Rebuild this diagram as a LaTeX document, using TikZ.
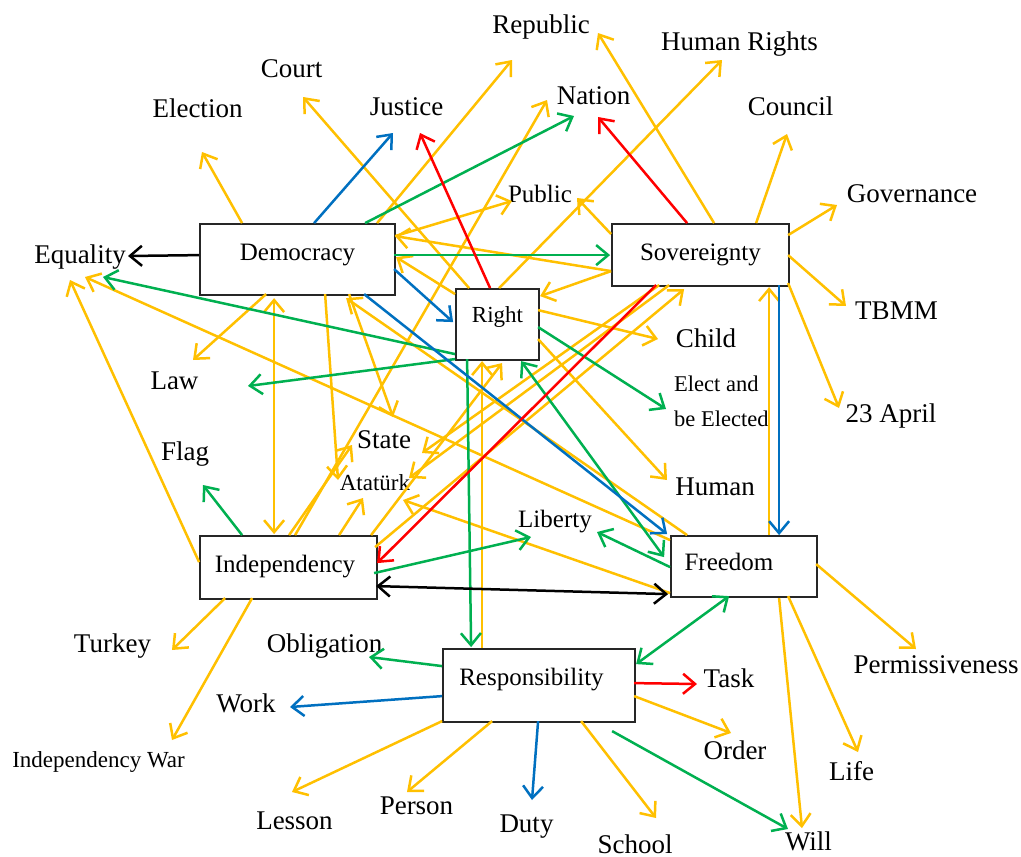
\documentclass[tikz,border=0pt]{standalone}
\usepackage{fontspec}
\setmainfont{Liberation Serif}
\usetikzlibrary{arrows.meta,calc}
\definecolor{cy}{HTML}{FFC000}
\definecolor{cg}{HTML}{00B050}
\definecolor{cb}{HTML}{0070C0}
\definecolor{cr}{HTML}{FF0000}
\tikzset{
  lbl/.style={inner sep=0pt, anchor=base, font=\fontsize{27}{32}\selectfont},
  lblm/.style={lbl, font=\fontsize{25}{30}\selectfont},
  lbls/.style={lbl, font=\fontsize{23}{35}\selectfont},
  box/.style={draw=black!85, line width=1.8pt, fill=white, inner sep=0pt,
    font=\fontsize{25}{30}\selectfont, text height=18pt},
  ar/.style={line width=2.5pt, -{Straight Barb[length=12pt,width=20pt]}},
  dar/.style={line width=2.5pt, {Straight Barb[length=12pt,width=20pt]}-{Straight Barb[length=12pt,width=20pt]}},
  yl/.style={draw=cy},
  gn/.style={draw=cg},
  bl/.style={draw=cb},
  rd/.style={draw=cr},
  bk/.style={draw=black}
}
\begin{document}
\begin{tikzpicture}[x=1pt,y=-1pt]
\fill[white] (0,0) rectangle (1021,857);
\useasboundingbox (0,0) rectangle (1021,857);

% boxes
\node[box, minimum width=195pt, minimum height=71pt, text depth=17pt] (dem) at (297.5,259.5) {Democracy};
\node[box, minimum width=177pt, minimum height=62pt, text depth=8pt] (sov) at (700.5,255) {Sovereignty};
\node[box, minimum width=83pt, minimum height=71pt, text depth=23pt, font=\fontsize{23}{28}\selectfont] (rgt) at (497.5,324.5) {Right};
\node[box, minimum width=177pt, minimum height=63pt, text depth=9pt] (ind) at (288.5,567.5) {Independency\hspace*{7pt}};
\node[box, minimum width=146pt, minimum height=61pt, text depth=11pt] (fre) at (744,566.5) {Freedom\hspace*{30pt}};
\node[box, minimum width=192pt, minimum height=73pt, text depth=19pt] (res) at (539,685.5) {Responsibility\hspace*{15pt}};

% labels
\node[lbl] (equ) at (80,263) {Equality};
\node[lbl] (ele) at (197.5,117) {Election};
\node[lbl] (cou) at (291.5,77) {Court};
\node[lbl] (jus) at (406.5,115) {Justice};
\node[lbl] (rep) at (541,33) {Republic};
\node[lbl] (nat) at (593.5,104) {Nation};
\node[lbl] (hr) at (739.5,50) {Human Rights};
\node[lbl] (cnc) at (790.5,115) {Council};
\node[lbl] (gov) at (912,202) {Governance};
\node[lblm] (pub) at (540,202) {Public};
\node[lbl] (tbmm) at (896.5,319) {TBMM};
\node[lbl] (chi) at (706,347) {Child};
\node[lbls, anchor=north west, align=left, font=\fontsize{22.5}{35}\selectfont] (elect) at (674,376) {Elect and\\be Elected};
\node[lbl] (ap23) at (891,422) {23 April};
\node[lbl] (hum) at (715,495) {Human};
\node[lblm] (lib) at (555,527) {Liberty};
\node[lbl] (law) at (174.5,389) {Law};
\node[lbl] (flag) at (185,460) {Flag};
\node[lbl] (state) at (384,448) {State};
\node[lbls] (ata) at (375,490) {Atatürk};
\node[lbl] (tur) at (112.5,652) {Turkey};
\node[lbl] (obl) at (324.5,652) {Obligation};
\node[lbl] (work) at (246,712) {Work};
\node[lbls] (iwar) at (98.5,767) {Independency War};
\node[lbl] (les) at (294.5,829) {Lesson};
\node[lbl] (per) at (416.5,814) {Person};
\node[lbl] (duty) at (526.5,832) {Duty};
\node[lbl] (sch) at (635,853) {School};
\node[lbl] (task) at (729,687) {Task};
\node[lbl] (ord) at (735,759) {Order};
\node[lbl] (life) at (851.5,780) {Life};
\node[lbl] (will) at (808.5,850) {Will};
\node[lbl] (perm) at (936,673) {Permissiveness};

% yellow connectors
\draw[ar,yl] ($(dem.north west)+(43,0)$) -- ($(ele.base)+(4.5,35)$);
\draw[ar,yl] ($(dem.north west)+(178,0)$) -- ($(rep.base)+(-29,27)$);
\draw[ar,yl] ($(dem.north west)+(196,13)$) -- ($(pub.base)+(-28,-1)$);
\draw[ar,yl] ($(sov.north west)+(0,48)$) -- ($(dem.north west)+(196,13)$);
\draw[ar,yl] ($(sov.north west)+(0,48)$) -- ($(rgt.north west)+(85,8)$);
\draw[ar,yl] ($(rgt.north west)+(0,6)$) -- ($(dem.north west)+(197,34)$);
\draw[ar,yl] ($(rgt.north west)+(14,0)$) -- ($(cou.base)+(11.5,20)$);
\draw[ar,yl] ($(rgt.north west)+(44,0)$) -- ($(hr.base)+(-17.5,10)$);
\draw[ar,yl] ($(rgt.north west)+(83,22)$) -- ($(chi.base)+(-48,-8)$);
\draw[ar,yl] ($(rgt.north west)+(83,51)$) -- ($(hum.base)+(-48,-15)$);
\draw[ar,yl] ($(res.north west)+(40,0)$) -- ($(rgt.north west)+(27,73)$);
\draw[ar,yl] ($(dem.north west)+(67,71)$) -- ($(law.base)+(18.5,-29)$);
\draw[dar,yl] ($(dem.north west)+(75,75)$) -- ($(ind.north west)+(75,-1)$);
\draw[ar,yl] ($(dem.north west)+(126,71)$) -- ($(ata.base)+(-37,-10)$);
\draw[ar,yl] ($(dem.north west)+(150,71)$) -- ($(state.base)+(9,-31)$);
\draw[ar,yl] ($(fre.north west)+(17,0)$) -- ($(dem.north west)+(147,75)$);
\draw[ar,yl] ($(fre.north west)+(0,5)$) -- ($(equ.base)+(5,14)$);
\draw[ar,yl] ($(fre.north west)+(0,58)$) -- ($(ata.base)+(28,10)$);
\draw[ar,yl] ($(ind.north west)+(0,27)$) -- ($(equ.base)+(-10,17)$);
\draw[ar,yl] ($(ind.north west)+(90,0)$) -- ($(state.base)+(-32,-3)$);
\draw[ar,yl] ($(ind.north west)+(96,0)$) -- ($(nat.base)+(-46.5,-4)$);
\draw[ar,yl] ($(ind.north west)+(140,0)$) -- ($(ata.base)+(-12,8)$);
\draw[ar,yl] ($(ind.north west)+(172,0)$) -- ($(rgt.north west)+(47,75)$);
\draw[ar,yl] ($(ind.north west)+(176,12)$) -- ($(sov.north west)+(73,66)$);
\draw[ar,yl] ($(sov.north west)+(48,62)$) -- ($(state.base)+(38,5)$);
\draw[ar,yl] ($(sov.north west)+(58,62)$) -- ($(ata.base)+(34,-12)$);
\draw[ar,yl] ($(sov.north west)+(103,0)$) -- ($(rep.base)+(57,0)$);
\draw[ar,yl] ($(sov.north west)+(145,0)$) -- ($(cnc.base)+(-3.5,19)$);
\draw[ar,yl] ($(sov.north west)+(177,12)$) -- ($(gov.base)+(-75,3)$);
\draw[ar,yl] ($(sov.north west)+(177,32)$) -- ($(tbmm.base)+(-50.5,-13)$);
\draw[ar,yl] ($(sov.north west)+(177,60)$) -- ($(ap23.base)+(-52,-14)$);
\draw[ar,yl] ($(sov.north west)+(0,11)$) -- ($(pub.base)+(37,-4)$);
\draw[ar,yl] ($(fre.north west)+(99,0)$) -- ($(sov.north west)+(158,64)$);
\draw[ar,yl] ($(fre.north west)+(146,29)$) -- ($(perm.base)+(-20,-24)$);
\draw[ar,yl] ($(fre.north west)+(118,61)$) -- ($(life.base)+(6.5,-28)$);
\draw[ar,yl] ($(fre.north west)+(109,63)$) -- ($(will.base)+(-6.5,-22)$);
\draw[ar,yl] ($(ind.north west)+(26,63)$) -- ($(tur.base)+(59.5,-2)$);
\draw[ar,yl] ($(ind.north west)+(53,63)$) -- ($(iwar.base)+(73.5,-27)$);
\draw[ar,yl] ($(res.north west)+(192,48)$) -- ($(ord.base)+(-4,-26)$);
\draw[ar,yl] ($(res.north west)+(139,73)$) -- ($(sch.base)+(21,-35)$);
\draw[ar,yl] ($(res.north west)+(50,73)$) -- ($(per.base)+(-9.5,-22)$);
\draw[ar,yl] ($(res.north west)+(0,73)$) -- ($(les.base)+(-2.5,-37)$);

% green connectors
\draw[ar,gn] ($(dem.north west)+(166,0)$) -- ($(nat.base)+(-19.5,12)$);
\draw[ar,gn] ($(dem.north west)+(195,32)$) -- ($(sov.north west)+(-1,32)$);
\draw[ar,gn] ($(rgt.north west)+(0,66)$) -- ($(equ.base)+(23,14)$);
\draw[ar,gn] ($(rgt.north west)+(0,71)$) -- ($(law.base)+(73.5,-3)$);
\draw[ar,gn] ($(rgt.north west)+(83,39)$) -- ($(elect.north west)+(-8,33)$);
\draw[ar,gn] ($(rgt.north west)+(12,71)$) -- ($(res.north west)+(29,-1)$);
\draw[dar,gn] ($(rgt.north west)+(66,73)$) -- ($(fre.north west)+(-6,22)$);
\draw[ar,gn] ($(ind.north west)+(43,0)$) -- ($(flag.base)+(18,25)$);
\draw[ar,gn] ($(ind.north west)+(175,38)$) -- ($(lib.base)+(-24,10)$);
\draw[ar,gn] ($(fre.north west)+(0,32)$) -- ($(lib.base)+(42,5)$);
\draw[dar,gn] ($(fre.north west)+(59,61)$) -- ($(res.north west)+(194,16)$);
\draw[ar,gn] ($(res.north west)+(0,18)$) -- ($(obl.base)+(44.5,5)$);
\draw[ar,gn] ($(res.north west)+(170,83)$) -- ($(will.base)+(-20.5,-21)$);

% blue connectors
\draw[ar,bl] ($(dem.north west)+(115,0)$) -- ($(jus.base)+(-13.5,18)$);
\draw[ar,bl] ($(dem.north west)+(195,46)$) -- ($(rgt.north west)+(-2,34)$);
\draw[ar,bl] ($(dem.north west)+(165,71)$) -- ($(fre.north west)+(-3,-1)$);
\draw[ar,bl] ($(sov.north west)+(168,62)$) -- ($(fre.north west)+(109,0)$);
\draw[ar,bl] ($(res.north west)+(0,48)$) -- ($(work.base)+(44,-5)$);
\draw[ar,bl] ($(res.north west)+(96,73)$) -- ($(duty.base)+(5.5,-32)$);

% red connectors
\draw[ar,rd] ($(rgt.north west)+(35,0)$) -- ($(jus.base)+(13.5,18)$);
\draw[ar,rd] ($(sov.north west)+(76,0)$) -- ($(nat.base)+(4.5,13)$);
\draw[ar,rd] ($(sov.north west)+(45,62)$) -- ($(ind.north west)+(178,28)$);
\draw[ar,rd] ($(res.north west)+(192,35)$) -- ($(task.base)+(-32,-3)$);

% black connectors
\draw[ar,bk] ($(dem.north west)+(0,32)$) -- ($(equ.base)+(48,-7)$);
\draw[dar,bk] ($(ind.north west)+(177,51)$) -- ($(fre.north west)+(-2,59)$);
\end{tikzpicture}
\end{document}
